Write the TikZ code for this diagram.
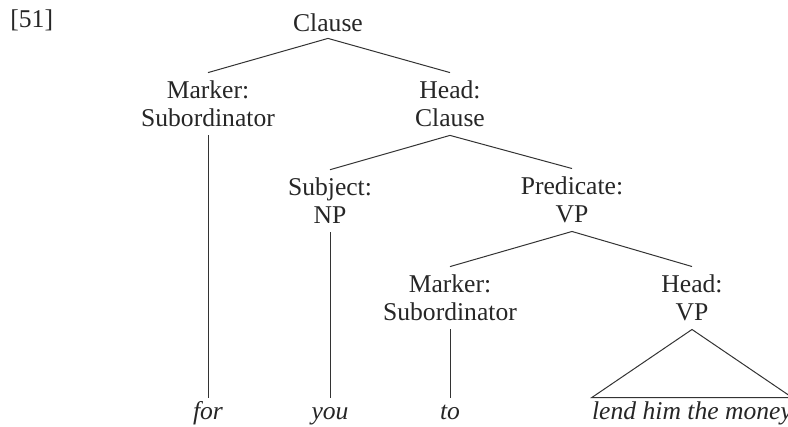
\documentclass[tikz,border=0pt]{standalone}
\usepackage{fontspec}
\setmainfont{Liberation Serif}
\usetikzlibrary{positioning}
\begin{document}
\begin{tikzpicture}[x=0.5pt,y=-0.5pt,lbl/.style={align=center,inner sep=4pt,font=\fontsize{12.8}{14}\selectfont,text=black!85},word/.style={inner xsep=0pt,inner ysep=4pt,text height=0.7em,text depth=0.22em,font=\fontsize{12.8}{14}\selectfont\itshape,text=black!85},edge/.style={draw=black!80,line width=0.5pt}]
\useasboundingbox (0,0) rectangle (788,427);
\node[lbl,anchor=base west,inner sep=0pt] (num) at (10,28) {[51]};
\node[lbl,inner sep=3pt] (cl) at (328,23) {Clause};
\node[lbl] (mk1) at (208,104) {Marker:\\Subordinator};
\node[lbl] (hcl) at (450,104) {Head:\\Clause};
\node[lbl] (subj) at (330,201) {Subject:\\NP};
\node[lbl] (pred) at (572,200) {Predicate:\\VP};
\node[lbl] (mk2) at (450,298) {Marker:\\Subordinator};
\node[lbl] (hvp) at (692,298) {Head:\\VP};
\node[word,anchor=base] (for) at (208,420) {for};
\node[word,anchor=base] (you) at (330,420) {you};
\node[word,anchor=base] (to) at (450,420) {to};
\node[word,anchor=base] (lend) at (692,420) {lend him the money};
\draw[edge] (mk1.north)--(cl.south)--(hcl.north);\draw[edge] (subj.north)--(hcl.south)--(pred.north);\draw[edge] (mk2.north)--(pred.south)--(hvp.north);
\draw[edge] (mk1.south)--(for.north);\draw[edge] (subj.south)--(you.north);\draw[edge] (mk2.south)--(to.north);
\draw[edge] (hvp.south)--(lend.north west)--(lend.north east)--cycle;
\end{tikzpicture}
\end{document}
